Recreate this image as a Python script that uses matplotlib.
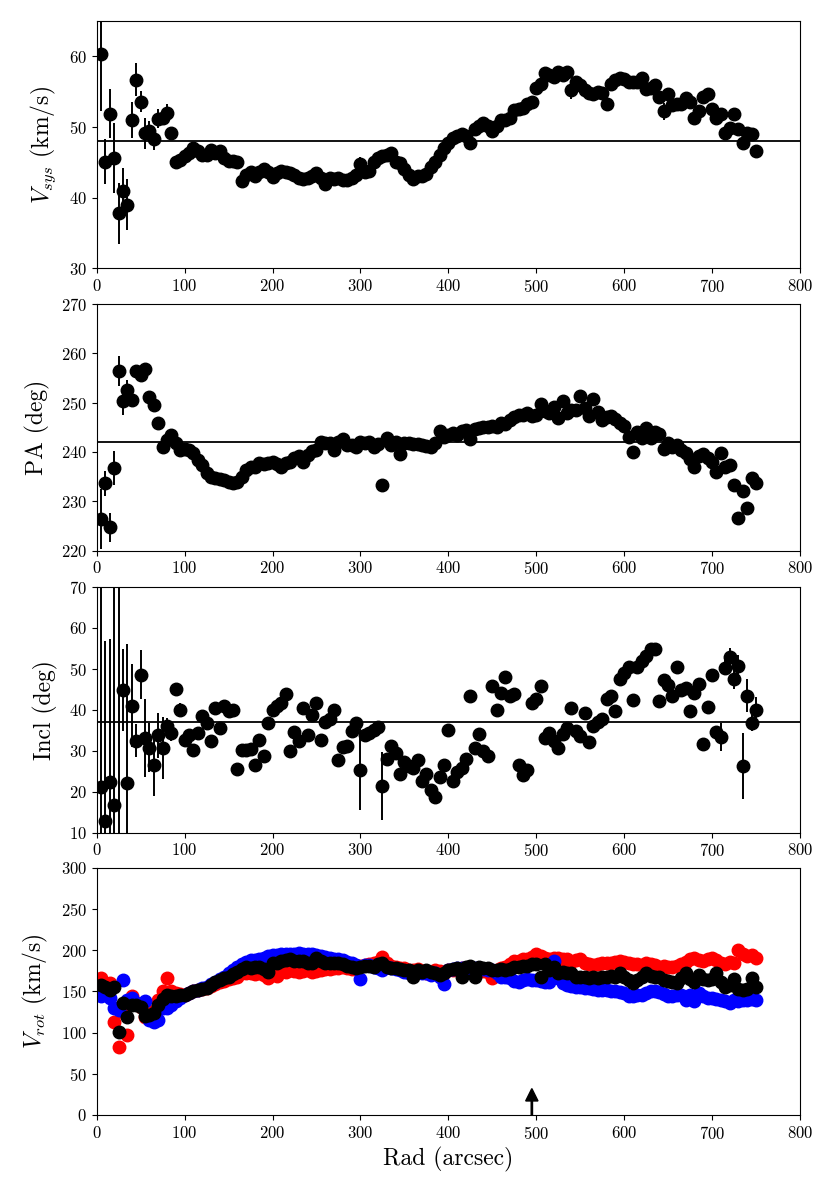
import numpy as np
import matplotlib
matplotlib.use("Agg")
import matplotlib.pyplot as plt

plt.rcParams['font.family'] = 'serif'
plt.rcParams['font.serif'] = ['cmr10']
plt.rcParams['mathtext.fontset'] = 'cm'
plt.rcParams['axes.formatter.use_mathtext'] = True

# ring radii (arcsec), 5" step
rad = np.arange(5, 755, 5)

vsys = [60.3, 45.1, 51.9, 45.6, 37.8, 40.9, 39.0, 51.0, 56.7, 53.6,
        49.1, 49.4, 48.3, 51.2, 51.3, 52.0, 49.1, 45.1, 45.4, 45.9,
        46.3, 47.0, 46.6, 46.1, 46.1, 46.7, 46.3, 46.6, 45.6, 45.2,
        45.2, 45.0, 42.4, 43.2, 43.7, 43.1, 43.7, 44.0, 43.7, 42.9,
        43.5, 43.8, 43.7, 43.5, 43.2, 42.8, 42.7, 42.8, 43.0, 43.5,
        42.8, 42.0, 42.8, 42.7, 42.8, 42.5, 42.5, 42.8, 43.2, 44.8,
        43.7, 43.8, 45.1, 45.6, 45.9, 46.1, 46.3, 45.1, 44.9, 44.1,
        43.2, 42.7, 43.0, 43.1, 43.3, 44.4, 45.1, 46.1, 47.0, 47.8,
        48.5, 48.7, 49.0, 48.7, 47.8, 49.7, 50.1, 50.5, 50.1, 49.4,
        50.1, 51.0, 51.0, 51.3, 52.4, 52.6, 52.7, 53.2, 53.6, 55.5,
        56.1, 57.6, 57.3, 57.1, 57.8, 57.3, 57.8, 55.2, 56.3, 55.9,
        55.2, 54.8, 54.7, 54.9, 54.8, 53.3, 56.1, 56.6, 57.0, 56.8,
        56.3, 56.3, 56.3, 56.9, 55.4, 55.5, 55.9, 54.2, 52.2, 54.6,
        53.1, 53.3, 53.3, 54.1, 53.6, 51.3, 52.3, 54.2, 54.7, 52.5,
        51.3, 51.8, 49.2, 49.9, 51.9, 49.7, 47.8, 49.2, 49.0, 46.6]
vsys_err = np.full(150, 0.5)
vsys_err[:17] = [8, 3.2, 3.5, 5, 4.3, 3.3, 3.6, 2.5, 2.3, 1.5, 2.2, 1.5, 1.5, 1.3, 1.0, 1.3, 0.8]
vsys_err[[59, 66, 107, 128, 144]] = [1.0, 0.8, 1.2, 1.2, 0.8]

pa = [226.4, 233.6, 224.7, 236.7, 256.4, 250.4, 252.6, 250.5, 256.4, 255.6,
      256.8, 251.2, 249.5, 245.9, 241.1, 242.4, 243.4, 241.8, 240.4, 240.5,
      240.4, 239.7, 238.4, 237.4, 235.7, 235.0, 234.7, 234.5, 234.3, 234.0,
      233.8, 234.0, 235.0, 236.4, 237.0, 237.0, 237.7, 237.6, 237.8, 238.0,
      237.6, 237.0, 237.7, 238.0, 238.7, 239.1, 238.0, 239.4, 240.1, 240.4,
      242.1, 241.8, 241.8, 240.4, 242.1, 242.6, 241.4, 241.4, 241.1, 242.1,
      241.8, 242.1, 241.1, 241.6, 233.2, 242.8, 241.4, 242.1, 239.6, 241.9,
      241.8, 241.6, 241.6, 241.4, 241.2, 240.9, 241.8, 244.3, 243.0, 243.4,
      243.8, 243.4, 244.3, 244.5, 242.6, 244.6, 244.8, 245.0, 245.1, 245.3,
      245.1, 245.8, 245.7, 246.4, 247.0, 247.4, 247.5, 247.8, 247.2, 247.5,
      249.7, 248.2, 247.8, 249.1, 246.8, 250.4, 247.8, 248.5, 248.6, 251.4,
      248.9, 247.2, 250.7, 248.0, 246.4, 247.0, 247.2, 246.6, 245.8, 245.3,
      243.1, 239.9, 244.1, 242.8, 244.8, 242.8, 244.1, 243.6, 240.5, 241.8,
      241.1, 241.4, 240.4, 239.7, 238.5, 236.9, 239.2, 239.6, 238.7, 238.0,
      236.0, 239.7, 237.0, 237.4, 233.3, 226.6, 232.0, 228.6, 234.7, 233.8]
pa_err = np.full(150, 0.5)
pa_err[:7] = [6, 2.5, 3, 3.5, 3, 3, 2]

incl = [21.1, 12.8, 22.3, 16.8, 8.0, 44.7, 22.1, 41.0, 32.4, 48.5,
        33.1, 30.7, 26.4, 33.7, 30.7, 35.9, 34.3, 45.0, 40.0, 32.7,
        33.9, 30.1, 34.3, 38.4, 36.7, 32.4, 40.4, 35.5, 41.0, 39.6,
        40.0, 25.6, 30.1, 30.1, 30.4, 26.6, 32.7, 28.6, 36.7, 40.0,
        41.0, 41.6, 43.7, 29.8, 34.5, 32.4, 40.4, 33.7, 38.8, 41.6,
        32.5, 36.9, 37.6, 39.8, 27.8, 30.9, 31.1, 34.7, 36.7, 25.4,
        33.7, 34.3, 35.0, 35.8, 21.3, 28.0, 31.1, 29.4, 24.4, 27.2,
        26.2, 25.8, 27.8, 22.5, 24.4, 20.5, 18.7, 23.6, 26.6, 35.1,
        22.5, 24.7, 25.8, 28.0, 43.3, 30.7, 34.1, 29.8, 28.8, 45.7,
        39.8, 44.1, 48.0, 43.3, 43.7, 26.6, 24.1, 25.4, 41.6, 42.6,
        45.7, 33.1, 34.3, 32.3, 30.7, 34.1, 35.5, 40.4, 34.7, 33.5,
        39.2, 32.0, 35.9, 36.9, 37.7, 42.6, 43.3, 39.6, 47.5, 48.9,
        50.4, 42.4, 50.4, 51.8, 53.0, 54.8, 54.8, 42.0, 47.3, 45.9,
        43.3, 50.4, 44.9, 45.3, 39.6, 44.1, 46.3, 31.7, 40.7, 48.5,
        34.5, 33.3, 50.2, 52.8, 47.5, 50.7, 26.2, 43.4, 36.7, 40.0]
incl_err = np.full(150, 1.0)
incl_err[:20] = [55, 44, 35, 55, 70, 10, 34, 10, 4, 6, 9.5, 6, 7.5, 5.5, 7.5, 2, 2, 1.5, 1.5, 1.5]
incl_err[[59, 64]] = [9.8, 8.3]
incl_err[137:] = [1.5, 1.5, 1.0, 1.5, 3.5, 1.8, 2.2, 2.5, 2.5, 8, 4, 2, 3]

vrot = [158, 156, 152, 156, 101, 136, 119, 133, 134, 131,
        120, 122, 124, 134, 141, 146, 144, 145, 146, 146,
        148, 150, 152, 153, 154, 158, 161, 164, 166, 168,
        171, 174, 177, 180, 178, 180, 180, 177, 174, 184,
        185, 187, 188, 189, 187, 187, 187, 185, 185, 191,
        187, 185, 184, 185, 184, 183, 181, 180, 178, 180,
        181, 181, 180, 183, 185, 180, 178, 178, 177, 176,
        176, 167, 176, 174, 176, 174, 172, 170, 173, 176,
        177, 178, 167, 180, 181, 167, 180, 178, 178, 176,
        176, 177, 176, 177, 180, 180, 181, 181, 183, 183,
        167, 183, 176, 180, 172, 174, 173, 172, 167, 168,
        167, 166, 167, 166, 167, 167, 169, 167, 172, 167,
        164, 160, 164, 167, 172, 169, 167, 167, 164, 163,
        162, 160, 166, 172, 165, 161, 170, 165, 164, 165,
        172, 162, 156, 158, 165, 153, 152, 153, 166, 155]

vrot_red = [166, 158, 160, 113, 82, 125, 97, 144, 136, 131,
            119, 122, 126, 140, 150, 166, 150, 148, 147, 146,
            148, 150, 152, 153, 154, 157, 159, 161, 163, 165,
            166, 168, 172, 173, 172, 171, 173, 170, 166, 172,
            169, 174, 174, 176, 175, 174, 175, 176, 174, 175,
            176, 177, 177, 178, 178, 180, 178, 177, 179, 181,
            182, 183, 184, 186, 192, 184, 181, 180, 178, 178,
            176, 176, 177, 175, 173, 174, 176, 175, 172, 176,
            176, 177, 178, 176, 178, 177, 176, 175, 174, 166,
            176, 178, 180, 183, 187, 187, 189, 190, 192, 195,
            193, 191, 190, 191, 191, 190, 189, 186, 188, 189,
            184, 183, 182, 183, 184, 185, 184, 186, 187, 186,
            185, 183, 183, 182, 184, 183, 182, 180, 181, 180,
            180, 181, 183, 186, 189, 191, 188, 187, 189, 191,
            188, 184, 183, 186, 184, 200, 196, 193, 194, 191]

vrot_blue = [145, 152, 142, 130, 128, 164, 140, 142, 136, 133,
             138, 115, 113, 115, 130, 130, 133, 138, 142, 146,
             148, 150, 152, 154, 156, 159, 162, 165, 168, 172,
             176, 180, 183, 186, 188, 188, 190, 191, 193, 194,
             194, 195, 196, 196, 196, 197, 195, 196, 195, 194,
             193, 192, 191, 190, 189, 188, 186, 184, 182, 165,
             182, 182, 180, 178, 176, 180, 178, 177, 176, 174,
             173, 172, 174, 173, 172, 170, 172, 168, 159, 176,
             177, 178, 178, 179, 179, 178, 178, 177, 176, 176,
             172, 168, 168, 166, 163, 162, 164, 165, 164, 164,
             163, 162, 162, 187, 166, 160, 158, 157, 156, 155,
             154, 154, 153, 152, 152, 152, 151, 150, 149, 148,
             145, 144, 146, 146, 148, 150, 151, 149, 147, 145,
             145, 146, 146, 140, 146, 138, 148, 144, 142, 142,
             141, 140, 139, 136, 140, 139, 140, 140, 141, 140]

fig = plt.figure(figsize=(8.3, 11.99), dpi=100)
left, width = 0.1165, 0.8473
ax1 = fig.add_axes([left, 0.7762, width, 0.2063])
ax2 = fig.add_axes([left, 0.5408, width, 0.2057])
ax3 = fig.add_axes([left, 0.3055, width, 0.2053])
ax4 = fig.add_axes([left, 0.0701, width, 0.2060])

ms = 9


def panel(ax, y, err, ylim, yticks, level, label):
    ax.errorbar(rad, y, yerr=err, fmt='o', color='k', ms=ms, elinewidth=1.4, capsize=0)
    ax.axhline(level, color='k', lw=1.3)
    ax.set_ylim(ylim)
    ax.set_yticks(yticks)
    ax.set_xlim(0, 800)
    ax.set_xticks(range(0, 801, 100))
    ax.set_ylabel(label, fontsize=17, labelpad=8)
    ax.tick_params(labelsize=12)


panel(ax1, vsys, vsys_err, (30, 65), [30, 40, 50, 60], 48.0, r'$V_{sys}$ (km/s)')
panel(ax2, pa, pa_err, (220, 270), range(220, 271, 10), 242.0, 'PA (deg)')
panel(ax3, incl, incl_err, (10, 70), range(10, 71, 10), 37.0, 'Incl (deg)')

ax4.plot(rad, vrot_red, 'o', color='red', ms=ms)
ax4.plot(rad, vrot_blue, 'o', color='blue', ms=ms)
ax4.plot(rad, vrot, 'o', color='k', ms=ms)
ax4.arrow(495, 0, 0, 17, width=1.5, head_width=14, head_length=15, fc='k', ec='k')
ax4.set_ylim(0, 300)
ax4.set_yticks(range(0, 301, 50))
ax4.set_xlim(0, 800)
ax4.set_xticks(range(0, 801, 100))
ax4.set_ylabel(r'$V_{rot}$ (km/s)', fontsize=17, labelpad=8)
ax4.set_xlabel('Rad (arcsec)', fontsize=17)
ax4.tick_params(labelsize=12)

fig.savefig('out.png', dpi=100)
